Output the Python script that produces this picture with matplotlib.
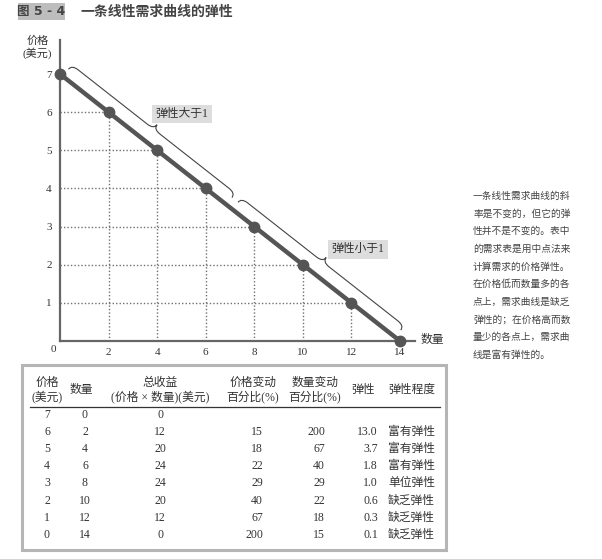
import numpy as np
import matplotlib
matplotlib.use('Agg')
import matplotlib.pyplot as plt
from matplotlib.path import Path
from matplotlib.patches import PathPatch, Rectangle
from matplotlib.transforms import IdentityTransform

plt.rcParams['font.family'] = ['Liberation Serif', 'Noto Sans CJK SC', 'DejaVu Sans']

# --- Datos de la tabla de demanda ---
precio = [7, 6, 5, 4, 3, 2, 1, 0]
cantidad = [0, 2, 4, 6, 8, 10, 12, 14]
ingreso = [0, 12, 20, 24, 24, 20, 12, 0]
cambio_precio = ['', '15', '18', '22', '29', '40', '67', '200']
cambio_cantidad = ['', '200', '67', '40', '29', '22', '18', '15']
elasticidad = ['', '13.0', '3.7', '1.8', '1.0', '0.6', '0.3', '0.1']
grado = ['', '富有弹性', '富有弹性', '富有弹性', '单位弹性', '缺乏弹性', '缺乏弹性', '缺乏弹性']

x_ticks = [2, 4, 6, 8, 10, 12, 14]
y_ticks = [1, 2, 3, 4, 5, 6, 7]

texto_lateral = ['一条线性需求曲线的斜', '率是不变的，但它的弹', '性并不是不变的。表中',
                 '的需求表是用中点法来', '计算需求的价格弹性。', '在价格低而数量多的各',
                 '点上，需求曲线是缺乏', '弹性的；在价格高而数', '量少的各点上，需求曲',
                 '线是富有弹性的。']

W, H = 602, 559
gris = '#555555'
texto = '#333333'

fig = plt.figure(figsize=(W / 100, H / 100), dpi=100)

# Capa de fondo en píxeles para título, tabla y texto
fondo = fig.add_axes([0, 0, 1, 1])
fondo.set_xlim(0, W)
fondo.set_ylim(H, 0)
fondo.axis('off')

# --- Gráfica de la curva ---
ax = fig.add_axes([60 / W, (H - 341) / H, 354.6 / W, 301.3 / H])
ax.set_xlim(0, 14.6)
ax.set_ylim(0, 7.9)
ax.patch.set_alpha(0)
for lado in ['top', 'right']:
    ax.spines[lado].set_visible(False)
for lado in ['left', 'bottom']:
    ax.spines[lado].set_color('#666666')
    ax.spines[lado].set_linewidth(1.6)

# Líneas punteadas hacia los ejes
for q, p in zip(cantidad[1:-1], precio[1:-1]):
    ax.plot([q, q], [0, p], color='#707070', linestyle=(0, (1, 1.5)), linewidth=1)
    ax.plot([0, q], [p, p], color='#707070', linestyle=(0, (1, 1.5)), linewidth=1)

ax.plot(cantidad, precio, color=gris, linewidth=3.2, marker='o', markersize=7.5,
        markerfacecolor=gris, markeredgecolor=gris, clip_on=False, zorder=5)

ax.set_xticks(x_ticks)
ax.set_yticks(y_ticks)
ax.tick_params(length=0, labelsize=8, labelcolor=texto)
ax.tick_params(axis='x', pad=5)
ax.tick_params(axis='y', pad=6)

fondo.text(53, 350, '0', fontsize=8, color=texto, ha='center', va='center')
fondo.text(432, 340, '数量', fontsize=8.5, color=texto, ha='center', va='center')
fondo.text(38, 41, '价格', fontsize=8, color=texto, ha='center', va='center')
fondo.text(37, 53, '(美元)', fontsize=8, color=texto, ha='center', va='center')


# --- Llaves sobre la curva ---
def llave(q0, q1, sep=9, a=5.5, r=8):
    p0 = ax.transData.transform((q0, np.interp(q0, cantidad, precio)))
    p1 = ax.transData.transform((q1, np.interp(q1, cantidad, precio)))
    L = np.linalg.norm(p1 - p0)
    d = (p1 - p0) / L
    n = np.array([-d[1], d[0]])
    loc = [(0, 0), (0, a), (r, a), (L / 2 - r, a), (L / 2, a), (L / 2, 2 * a),
           (L / 2, a), (L / 2 + r, a), (L - r, a), (L, a), (L, 0)]
    codes = [Path.MOVETO, Path.CURVE3, Path.CURVE3, Path.LINETO, Path.CURVE3, Path.CURVE3,
             Path.CURVE3, Path.CURVE3, Path.LINETO, Path.CURVE3, Path.CURVE3]
    pts = [p0 + n * sep + d * u + n * v for u, v in loc]
    fig.add_artist(PathPatch(Path(pts, codes), transform=IdentityTransform(),
                             facecolor='none', edgecolor='#444444', linewidth=0.8))


llave(0.12, 6.85)
llave(7.1, 13.8)

caja = dict(facecolor='#dddddd', edgecolor='none', pad=2.5)
ax.text(5.02, 5.95, '弹性大于1', fontsize=8.5, color=texto, ha='center', va='center', bbox=caja)
ax.text(12.27, 2.41, '弹性小于1', fontsize=8.5, color=texto, ha='center', va='center', bbox=caja)

# --- Título ---
fondo.add_patch(Rectangle((18, 3), 47, 17, facecolor='#bdbdbd', edgecolor='none'))
fondo.text(41, 12, '图 5 - 4', fontsize=9, fontweight='bold', color='#444444',
           ha='center', va='center', family=['DejaVu Sans', 'Noto Sans CJK SC'])
fondo.text(80, 12, '一条线性需求曲线的弹性', fontsize=10, fontweight='bold', color='#444444',
           ha='left', va='center', family=['Noto Sans CJK SC'])

# --- Texto lateral ---
for i, linea in enumerate(texto_lateral):
    fondo.text(473, 196 + i * 17.7, linea, fontsize=7, color='#444444', ha='left', va='center')

# --- Tabla ---
fondo.add_patch(Rectangle((22, 365), 424, 185, facecolor='none', edgecolor='#b5b5b5', linewidth=2.2))
fondo.plot([30, 440], [407, 407], color='#333333', linewidth=0.9)

encabezados = [(47, '价格', '(美元)'), (160, '总收益', '(价格 × 数量)(美元)'),
               (253, '价格变动', '百分比(%)'), (315, '数量变动', '百分比(%)')]
for xc, l1, l2 in encabezados:
    fondo.text(xc, 383, l1, fontsize=8.5, color=texto, ha='center', va='center')
    fondo.text(xc, 397, l2, fontsize=8.5, color=texto, ha='center', va='center')
fondo.text(81, 390, '数量', fontsize=8.5, color=texto, ha='center', va='center')
fondo.text(363, 390, '弹性', fontsize=8.5, color=texto, ha='center', va='center')
fondo.text(412, 390, '弹性程度', fontsize=8.5, color=texto, ha='center', va='center')

for i in range(len(precio)):
    y = 415 + i * 17.1
    fondo.text(47, y, str(precio[i]), fontsize=8.5, color=texto, ha='center', va='center')
    fondo.text(85, y, str(cantidad[i]), fontsize=8.5, color=texto, ha='center', va='center')
    fondo.text(160, y, str(ingreso[i]), fontsize=8.5, color=texto, ha='center', va='center')
    fondo.text(263, y, cambio_precio[i], fontsize=8.5, color=texto, ha='right', va='center')
    fondo.text(325, y, cambio_cantidad[i], fontsize=8.5, color=texto, ha='right', va='center')
    fondo.text(378, y, elasticidad[i], fontsize=8.5, color=texto, ha='right', va='center')
    fondo.text(388, y, grado[i], fontsize=8.5, color=texto, ha='left', va='center')

fig.savefig('out.png', dpi=100)
plt.close(fig)
